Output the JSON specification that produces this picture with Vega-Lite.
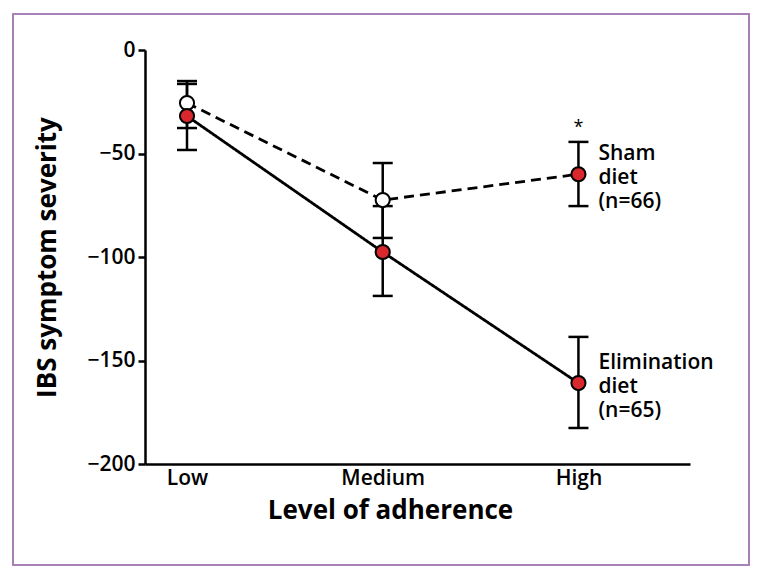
{
  "$schema": "https://vega.github.io/schema/vega-lite/v6.json",
  "width": 545,
  "height": 414,
  "autosize": {"type": "none"},
  "padding": {"left": 145, "top": 50, "right": 72, "bottom": 112},
  "config": {
    "view": {"stroke": null},
    "font": "Open Sans",
    "axis": {"grid": false, "labelColor": "black", "titleColor": "black", "domainColor": "black", "tickColor": "black"}
  },
  "data": {
    "values": [
      {"series": "Sham", "level": 0, "mean": -25.6, "lo": -37.7, "hi": -15.0, "marker": "open", "label": "", "sig": ""},
      {"series": "Sham", "level": 1, "mean": -72.5, "lo": -90.8, "hi": -54.6, "marker": "open", "label": "", "sig": ""},
      {"series": "Sham", "level": 2, "mean": -60.0, "lo": -75.4, "hi": -44.4, "marker": "filled", "label": "Sham\ndiet\n(n=66)", "sig": "*"},
      {"series": "Elimination", "level": 0, "mean": -31.9, "lo": -48.3, "hi": -16.4, "marker": "filled", "label": "", "sig": ""},
      {"series": "Elimination", "level": 1, "mean": -97.6, "lo": -118.8, "hi": -75.4, "marker": "filled", "label": "", "sig": ""},
      {"series": "Elimination", "level": 2, "mean": -160.9, "lo": -182.6, "hi": -138.6, "marker": "filled", "label": "Elimination\ndiet\n(n=65)", "sig": ""}
    ]
  },
  "encoding": {
    "x": {
      "field": "level",
      "type": "quantitative",
      "scale": {"domain": [-0.2146, 2.57], "zero": false, "nice": false},
      "axis": {
        "values": [0, 1, 2],
        "labelExpr": "['Low','Medium','High'][datum.value]",
        "ticks": false,
        "domainWidth": 2.5,
        "labelFontSize": 21,
        "labelFontWeight": 600,
        "labelPadding": 3,
        "labelFlush": false,
        "title": "Level of adherence",
        "titleFontSize": 26,
        "titleFontWeight": "bold",
        "titlePadding": 9,
        "titleX": 245
      }
    }
  },
  "layer": [
    {
      "mark": {"type": "rect", "fillOpacity": 0, "stroke": "#a680b5", "strokeWidth": 1.2, "clip": false},
      "encoding": {
        "x": {"datum": -0.889, "type": "quantitative"},
        "x2": {"datum": 2.872},
        "y": {"datum": 17.39, "type": "quantitative", "scale": {"domain": [-200, 0], "zero": false, "nice": false}},
        "y2": {"datum": -248.8}
      }
    },
    {
      "mark": {"type": "rule", "color": "black", "strokeWidth": 2.5},
      "encoding": {
        "y": {
          "field": "lo",
          "type": "quantitative",
          "scale": {"domain": [-200, 0], "zero": false, "nice": false},
          "axis": {
            "values": [0, -50, -100, -150, -200],
            "domainWidth": 2.5,
            "tickWidth": 2.5,
            "tickSize": 7,
            "labelFontSize": 21,
            "labelFontWeight": 600,
            "labelPadding": 3,
            "title": "IBS symptom severity",
            "titleFontSize": 26,
            "titleFontWeight": "bold",
            "titlePadding": 26
          }
        },
        "y2": {"field": "hi"}
      }
    },
    {
      "mark": {"type": "tick", "orient": "horizontal", "size": 20, "thickness": 2.5, "color": "black", "opacity": 1},
      "encoding": {"y": {"field": "lo", "type": "quantitative"}}
    },
    {
      "mark": {"type": "tick", "orient": "horizontal", "size": 20, "thickness": 2.5, "color": "black", "opacity": 1},
      "encoding": {"y": {"field": "hi", "type": "quantitative"}}
    },
    {
      "mark": {"type": "line", "color": "black", "strokeWidth": 2.8},
      "encoding": {
        "y": {"field": "mean", "type": "quantitative"},
        "detail": {"field": "series"},
        "strokeDash": {
          "field": "series",
          "type": "nominal",
          "scale": {"domain": ["Sham", "Elimination"], "range": [[10, 6], [1, 0]]},
          "legend": null
        }
      }
    },
    {
      "mark": {"type": "point", "shape": "circle", "filled": true, "size": 200, "stroke": "black", "strokeWidth": 2, "opacity": 1},
      "encoding": {
        "y": {"field": "mean", "type": "quantitative"},
        "fill": {
          "field": "marker",
          "type": "nominal",
          "scale": {"domain": ["open", "filled"], "range": ["white", "#d8272d"]},
          "legend": null
        }
      }
    },
    {
      "mark": {"type": "text", "align": "left", "baseline": "middle", "dx": 20, "dy": -20, "fontSize": 21, "fontWeight": 600, "lineHeight": 24, "lineBreak": "\n", "color": "black"},
      "encoding": {
        "y": {"field": "mean", "type": "quantitative"},
        "text": {"field": "label", "type": "nominal"}
      }
    },
    {
      "mark": {"type": "text", "align": "center", "baseline": "middle", "dy": -14, "fontSize": 18, "color": "black"},
      "encoding": {
        "y": {"field": "hi", "type": "quantitative"},
        "text": {"field": "sig", "type": "nominal"}
      }
    }
  ]
}
